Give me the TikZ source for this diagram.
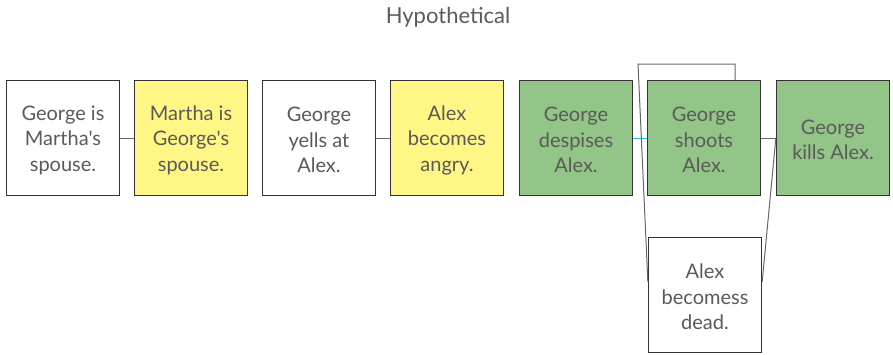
\documentclass[tikz,border=0pt]{standalone}
\usepackage{fontspec}
\setmainfont{Lato}[Ligatures=TeXOff]
\definecolor{txt}{HTML}{5A5A5A}
\definecolor{yel}{HTML}{FFF685}
\definecolor{grn}{HTML}{92C587}
\definecolor{edge}{HTML}{333333}
\definecolor{lnk}{HTML}{666666}
\definecolor{blu}{HTML}{29B6E8}
\newcommand{\boxtext}[1]{\parbox{108pt}{\centering\vspace*{4pt}#1}}
\begin{document}
\begin{tikzpicture}[x=1pt,y=-1pt,
  box/.style={draw=edge,line width=1.3pt,minimum width=113pt,minimum height=115pt,inner sep=0pt,
    align=center,font=\fontsize{20}{25.5}\selectfont,text=txt},
  wbox/.style={box,fill=white},
  ybox/.style={box,fill=yel},
  gbox/.style={box,fill=grn},
  conn/.style={draw=lnk,line width=1pt}]
\useasboundingbox (0,0) rectangle (893,354);
\node[text=txt,font=\fontsize{22}{26}\selectfont] (title) at (448,17.5) {Hypothetical};
\node[wbox] (a) at (63,138) {\boxtext{George is\\Martha's\\spouse.}};
\node[ybox] (b) at (191,138) {\boxtext{Martha is\\George's\\spouse.}};
\node[wbox] (c) at (319,138) {\boxtext{George\\yells at\\Alex.}};
\node[ybox] (d) at (447,138) {\boxtext{Alex\\becomes\\angry.}};
\node[gbox] (e) at (576,138) {\boxtext{George\\despises\\Alex.}};
\node[gbox] (f) at (704,138) {\boxtext{George\\shoots\\Alex.}};
\node[gbox] (g) at (833,138) {\boxtext{George\\kills Alex.}};
\node[wbox] (h) at (705,295) {\boxtext{Alex\\becomess\\dead.}};
\draw[conn] (a.east) -- (b.west);
\draw[conn] (c.east) -- (d.west);
\draw[draw=blu,line width=1pt] (e.east) -- (f.west);
\draw[conn] (f.east) -- (g.west);
\coordinate (ftop) at (735,64);
\coordinate (fleft) at (638,64);
\draw[conn] ([xshift=31pt]f.north) -- (ftop) -- (fleft) -- ([yshift=13pt]h.west);
\draw[conn] (g.west) -- ([yshift=13pt]h.east);
\end{tikzpicture}
\end{document}
